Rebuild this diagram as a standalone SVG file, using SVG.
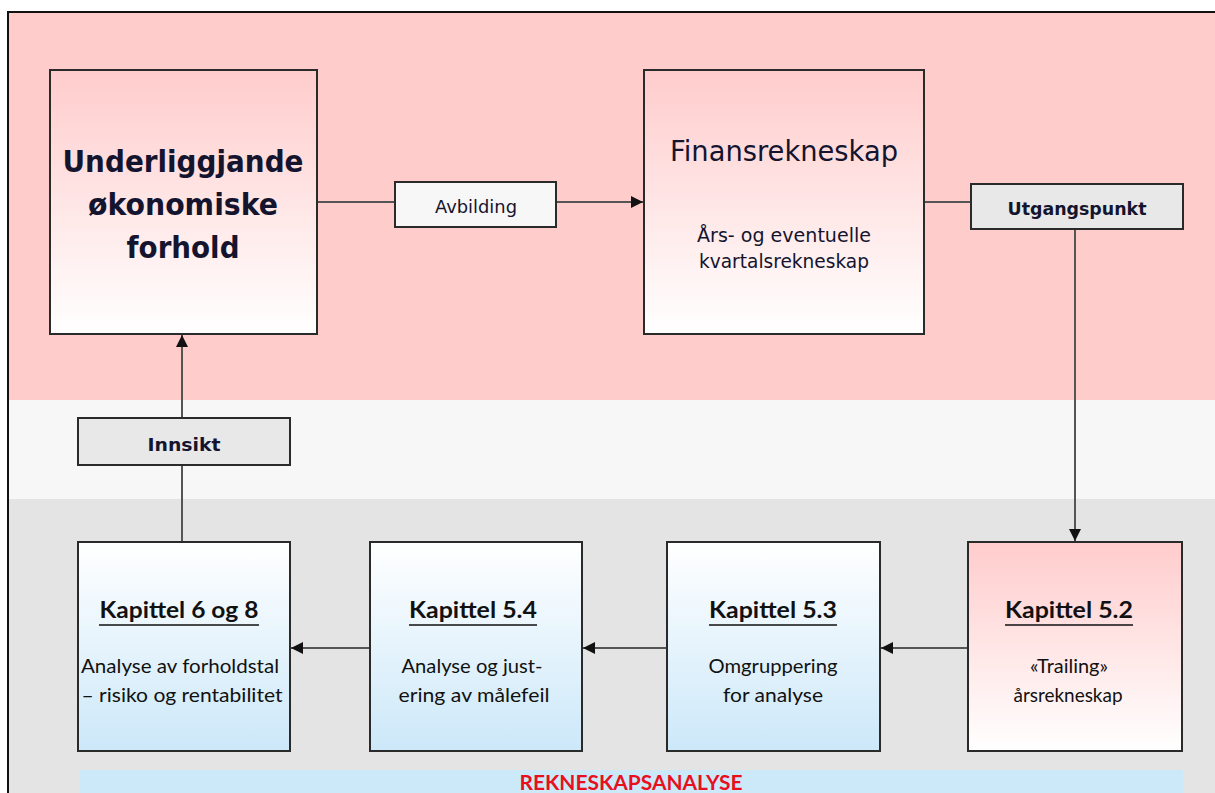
<svg xmlns="http://www.w3.org/2000/svg" width="1215" height="793" viewBox="0 0 1215 793">
<style>
.node{stroke:#2a2a2a;stroke-width:2}
.lbl{fill:#e8e8e8;stroke:#2a2a2a;stroke-width:2}
.conn{stroke:#555;stroke-width:2;fill:none}
.tah{font-family:"DejaVu Sans","Liberation Sans",sans-serif;fill:#14142e}
.cal{font-family:Lato,"Liberation Sans",sans-serif;fill:#111}
.b{font-weight:bold}
.t{text-anchor:middle}
.ul{stroke:#111;stroke-width:1.5}
</style>
<defs>
<linearGradient id="gPink" x1="0" y1="0" x2="0" y2="1">
<stop offset="0" stop-color="#ffcccc"/><stop offset="1" stop-color="#ffffff"/>
</linearGradient>
<linearGradient id="gBlue" x1="0" y1="0" x2="0" y2="1">
<stop offset="0" stop-color="#ffffff"/><stop offset="1" stop-color="#cce8f9"/>
</linearGradient>
<marker id="arr" viewBox="0 0 10 10" refX="10" refY="5" markerWidth="6" markerHeight="6" orient="auto" markerUnits="strokeWidth">
<path d="M0,0 L10,5 L0,10 z" fill="#111"/>
</marker>
</defs>
<rect x="0" y="0" width="1215" height="793" fill="#ffffff"/>
<rect x="8" y="12" width="1207" height="388" fill="#ffcccc"/>
<rect x="8" y="400" width="1207" height="99" fill="#f7f7f7"/>
<rect x="8" y="499" width="1207" height="294" fill="#e4e4e4"/>
<path d="M8,793 L8,12 L1215,12" fill="none" stroke="#111" stroke-width="2"/>

<g id="connectors">
<line class="conn" x1="317" y1="202" x2="395" y2="202"/>
<line class="conn" x1="556" y1="202" x2="643" y2="202" marker-end="url(#arr)"/>
<line class="conn" x1="924" y1="202" x2="971" y2="202"/>
<line class="conn" x1="1075" y1="229" x2="1075" y2="541" marker-end="url(#arr)"/>
<line class="conn" x1="968" y1="648" x2="881" y2="648" marker-end="url(#arr)"/>
<line class="conn" x1="667" y1="648" x2="583" y2="648" marker-end="url(#arr)"/>
<line class="conn" x1="370" y1="648" x2="291" y2="648" marker-end="url(#arr)"/>
<line class="conn" x1="182" y1="542" x2="182" y2="465"/>
<line class="conn" x1="182" y1="418" x2="182" y2="335" marker-end="url(#arr)"/>
</g>

<g id="underliggjande">
<rect class="node" x="50" y="70" width="267" height="264" fill="url(#gPink)"/>
<text class="tah b t" x="183" y="172" font-size="31" textLength="241" lengthAdjust="spacingAndGlyphs">Underliggjande</text>
<text class="tah b t" x="183" y="215" font-size="31" textLength="190" lengthAdjust="spacingAndGlyphs">økonomiske</text>
<text class="tah b t" x="183" y="258" font-size="31" textLength="113" lengthAdjust="spacingAndGlyphs">forhold</text>
</g>

<g id="avbilding">
<rect class="lbl" x="395" y="182" width="161" height="45" style="fill:#f7f7f7"/>
<text class="tah t" x="476" y="213" font-size="17" textLength="82" lengthAdjust="spacingAndGlyphs">Avbilding</text>
</g>

<g id="finansrekneskap">
<rect class="node" x="644" y="70" width="280" height="264" fill="url(#gPink)"/>
<text class="tah t" x="784" y="161" font-size="28" textLength="228" lengthAdjust="spacingAndGlyphs">Finansrekneskap</text>
<text class="tah t" x="784" y="242" font-size="19" textLength="174" lengthAdjust="spacingAndGlyphs">Års- og eventuelle</text>
<text class="tah t" x="784" y="268" font-size="19" textLength="170" lengthAdjust="spacingAndGlyphs">kvartalsrekneskap</text>
</g>

<g id="utgangspunkt">
<rect class="lbl" x="971" y="184" width="212" height="45"/>
<text class="tah b t" x="1077" y="215" font-size="18" textLength="139" lengthAdjust="spacingAndGlyphs">Utgangspunkt</text>
</g>

<g id="innsikt">
<rect class="lbl" x="78" y="418" width="212" height="47"/>
<text class="tah b t" x="184" y="451" font-size="18" textLength="73" lengthAdjust="spacingAndGlyphs">Innsikt</text>
</g>

<g id="kap68">
<rect class="node" x="78" y="542" width="212" height="209" fill="url(#gBlue)"/>
<text class="cal b t" x="179" y="618" font-size="23" textLength="159" lengthAdjust="spacingAndGlyphs">Kapittel 6 og 8</text>
<line class="ul" x1="99" y1="625" x2="259" y2="625"/>
<text class="cal t" x="180" y="673" font-size="20" textLength="198" lengthAdjust="spacingAndGlyphs">Analyse av forholdstal</text>
<text class="cal t" x="182" y="702" font-size="20" textLength="201" lengthAdjust="spacingAndGlyphs">– risiko og rentabilitet</text>
</g>

<g id="kap54">
<rect class="node" x="370" y="542" width="212" height="209" fill="url(#gBlue)"/>
<text class="cal b t" x="473" y="618" font-size="23" textLength="128" lengthAdjust="spacingAndGlyphs">Kapittel 5.4</text>
<line class="ul" x1="409" y1="625" x2="537" y2="625"/>
<text class="cal t" x="472" y="673" font-size="20" textLength="141" lengthAdjust="spacingAndGlyphs">Analyse og just-</text>
<text class="cal t" x="474" y="702" font-size="20" textLength="151" lengthAdjust="spacingAndGlyphs">ering av målefeil</text>
</g>

<g id="kap53">
<rect class="node" x="667" y="542" width="213" height="209" fill="url(#gBlue)"/>
<text class="cal b t" x="773" y="618" font-size="23" textLength="128" lengthAdjust="spacingAndGlyphs">Kapittel 5.3</text>
<line class="ul" x1="709" y1="625" x2="837" y2="625"/>
<text class="cal t" x="773" y="673" font-size="20" textLength="129" lengthAdjust="spacingAndGlyphs">Omgruppering</text>
<text class="cal t" x="773" y="702" font-size="20" textLength="100" lengthAdjust="spacingAndGlyphs">for analyse</text>
</g>

<g id="kap52">
<rect class="node" x="968" y="542" width="214" height="209" fill="url(#gPink)"/>
<text class="cal b t" x="1069" y="618" font-size="23" textLength="128" lengthAdjust="spacingAndGlyphs">Kapittel 5.2</text>
<line class="ul" x1="1005" y1="625" x2="1133" y2="625"/>
<text class="cal t" x="1069" y="673" font-size="20" textLength="78" lengthAdjust="spacingAndGlyphs">«Trailing»</text>
<text class="cal t" x="1068" y="702" font-size="20" textLength="109" lengthAdjust="spacingAndGlyphs">årsrekneskap</text>
</g>

<g id="rekneskapsanalyse">
<rect x="80" y="770" width="1103" height="23" fill="#cce9fa"/>
<text class="cal b t" x="631" y="790" font-size="20" textLength="223" lengthAdjust="spacingAndGlyphs" style="fill:#e8101c">REKNESKAPSANALYSE</text>
</g>
</svg>
